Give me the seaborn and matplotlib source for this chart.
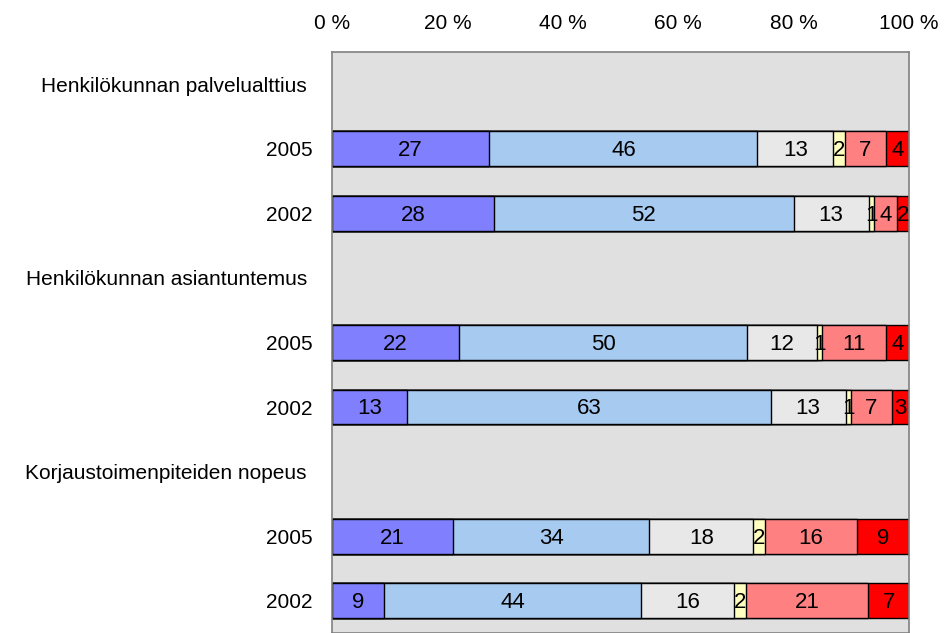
import matplotlib
matplotlib.use("Agg")
import matplotlib.pyplot as plt
import seaborn as sns
import numpy as np
import pandas as pd

# rows, top to bottom (headers have no bars)
row_labels = ["Henkilökunnan palvelualttius ", "2005", "2002",
              "Henkilökunnan asiantuntemus ", "2005", "2002",
              "Korjaustoimenpiteiden nopeus ", "2005", "2002"]
bar_rows = [1, 2, 4, 5, 7, 8]

# answer shares per bar (%)
s1 = [27, 28, 22, 13, 21, 9]
s2 = [46, 52, 50, 63, 34, 44]
s3 = [13, 13, 12, 13, 18, 16]
s4 = [2, 1, 1, 1, 2, 2]
s5 = [7, 4, 11, 7, 16, 21]
s6 = [4, 2, 4, 3, 9, 7]

colors = ["#8080ff", "#a6caf0", "#e8e8e8", "#ffffc0", "#ff8080", "#ff0000"]
series = [s1, s2, s3, s4, s5, s6]

vals = np.array(series, dtype=float).T
totals = vals.sum(axis=1, keepdims=True)
shares = vals / totals * 100
cums = shares.cumsum(axis=1)

sns.set_style("white")
plt.rcParams['font.family'] = ['Liberation Sans', 'DejaVu Sans']
plt.rcParams['text.color'] = 'black'
plt.rcParams['xtick.color'] = 'black'
plt.rcParams['ytick.color'] = 'black'

fig = plt.figure(figsize=(9.52, 6.33), dpi=100)
ax = fig.add_axes([332 / 952, 0.0, 577 / 952, 1 - 52 / 633])
ax.set_facecolor("#e0e0e0")

# draw cumulative bars from the widest to the narrowest
for k in range(5, -1, -1):
    df = pd.DataFrame({"row": bar_rows, "cum": cums[:, k]})
    sns.barplot(data=df, x="cum", y="row", orient="h", order=list(range(9)),
                color=colors[k], saturation=1, edgecolor="black", linewidth=1,
                width=0.54, ax=ax)

for i, r in enumerate(bar_rows):
    left = 0
    for k in range(6):
        w = shares[i, k]
        ax.text(left + w / 2, r + 0.03, str(series[k][i]), ha="center", va="center",
                fontsize=16, color="black")
        left += w

ax.set_xlim(0, 100)
ax.set_ylim(8.5, -0.5)
ax.set_xticks([0, 20, 40, 60, 80, 100])
ax.set_xticklabels([f"{t} %" for t in [0, 20, 40, 60, 80, 100]], fontsize=15)
ax.xaxis.tick_top()
ax.tick_params(axis="x", length=0, pad=14)
ax.set_yticks(range(9))
ax.set_yticklabels(row_labels, fontsize=15)
ax.tick_params(axis="y", length=0, pad=14)
ax.set_xlabel("")
ax.set_ylabel("")
for sp in ax.spines.values():
    sp.set_color("#808080")
    sp.set_linewidth(1.2)

fig.savefig("out.png", dpi=100)
